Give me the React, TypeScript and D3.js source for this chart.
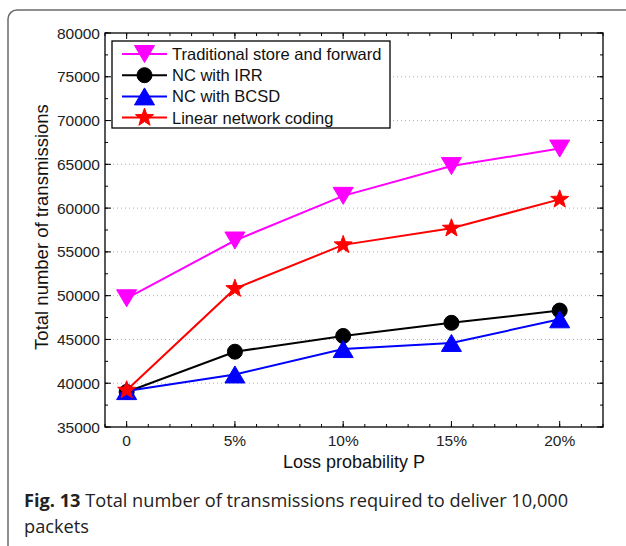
import React from 'react';
import * as d3 from 'd3';

// loss probability (%) and the labels under each tick
const lossValues = [0, 5, 10, 15, 20];
const lossLabels = ['0', '5%', '10%', '15%', '20%'];
const yTickValues = [35000, 40000, 45000, 50000, 55000, 60000, 65000, 70000, 75000, 80000];

// total transmissions
const traditional = [49700, 56300, 61400, 64800, 66800];
const ncIrr = [39000, 43600, 45400, 46900, 48300];
const ncBcsd = [39100, 41000, 43900, 44600, 47300];
const linearNc = [39200, 50800, 55800, 57700, 61000];

const seriesNames = ['Traditional store and forward', 'NC with IRR', 'NC with BCSD', 'Linear network coding'];
const seriesColors = ['#ff00ff', '#000000', '#0000ff', '#ff0000'];
const seriesMarkers = ['triDown', 'circle', 'triUp', 'star'];

const W = 626;
const H = 546;
const plot = { left: 105, right: 603, top: 33, bottom: 427 };

const chartFont = '"Liberation Sans", Arial, Helvetica, sans-serif';

function markerPath(kind: string): string {
  if (kind === 'triDown') return 'M-10,-8.5L10,-8.5L0,8.5Z';
  if (kind === 'triUp') return 'M-10,8.5L10,8.5L0,-8.5Z';
  if (kind === 'star') {
    const pts: string[] = [];
    for (let i = 0; i < 10; i++) {
      const r = i % 2 === 0 ? 9.5 : 3.9;
      const a = -Math.PI / 2 + (i * Math.PI) / 5;
      pts.push(`${(r * Math.cos(a)).toFixed(2)},${(r * Math.sin(a)).toFixed(2)}`);
    }
    return 'M' + pts.join('L') + 'Z';
  }
  return '';
}

const Marker: React.FC<{ kind: string; color: string; x: number; y: number }> = ({ kind, color, x, y }) => {
  if (kind === 'circle') return <circle cx={x} cy={y} r={7.5} fill={color} stroke={color} strokeWidth={1} />;
  return <path d={markerPath(kind)} transform={`translate(${x},${y})`} fill={color} stroke={color} strokeWidth={1} strokeLinejoin="round" />;
};

export default function App() {
  const x = d3.scaleLinear().domain([-1, 22]).range([plot.left, plot.right]);
  const y = d3.scaleLinear().domain([35000, 80000]).range([plot.bottom, plot.top]);

  const allSeries = [traditional, ncIrr, ncBcsd, linearNc];
  const line = d3
    .line<number>()
    .x((_, i) => x(lossValues[i]))
    .y((d) => y(d));

  const xMinor = d3.range(-1, 23, 1);
  const yMinor = d3.range(35000, 80001, 2500);

  return (
    <svg width={W} height={H} style={{ position: 'absolute', left: 0, top: 0, background: '#fff' }}>
      {/* card border */}
      <rect x={8} y={10} width={800} height={800} rx={9} fill="none" stroke="#6a6a6a" strokeWidth={1.5} />

      {/* grid */}
      {yTickValues.slice(1, -1).map((v) => (
        <line key={'g' + v} x1={plot.left} x2={plot.right} y1={y(v)} y2={y(v)} stroke="#b0b0b0" strokeWidth={1} strokeDasharray="1,3" />
      ))}

      {/* minor ticks */}
      {xMinor.map((v) => (
        <g key={'xm' + v} stroke="#000" strokeWidth={1}>
          <line x1={x(v)} x2={x(v)} y1={plot.bottom} y2={plot.bottom - 3} />
          <line x1={x(v)} x2={x(v)} y1={plot.top} y2={plot.top + 3} />
        </g>
      ))}
      {yMinor.map((v) => (
        <g key={'ym' + v} stroke="#000" strokeWidth={1}>
          <line x1={plot.left} x2={plot.left + 3} y1={y(v)} y2={y(v)} />
          <line x1={plot.right} x2={plot.right - 3} y1={y(v)} y2={y(v)} />
        </g>
      ))}
      {/* major ticks */}
      {lossValues.map((v) => (
        <g key={'xM' + v} stroke="#000" strokeWidth={1}>
          <line x1={x(v)} x2={x(v)} y1={plot.bottom} y2={plot.bottom - 6} />
          <line x1={x(v)} x2={x(v)} y1={plot.top} y2={plot.top + 6} />
        </g>
      ))}
      {yTickValues.map((v) => (
        <g key={'yM' + v} stroke="#000" strokeWidth={1}>
          <line x1={plot.left} x2={plot.left + 6} y1={y(v)} y2={y(v)} />
          <line x1={plot.right} x2={plot.right - 6} y1={y(v)} y2={y(v)} />
        </g>
      ))}

      {/* axes box */}
      <rect x={plot.left} y={plot.top} width={plot.right - plot.left} height={plot.bottom - plot.top} fill="none" stroke="#000" strokeWidth={1.3} />

      {/* tick labels */}
      <g fontFamily={chartFont} fontSize={15.5} fill="#222">
        {yTickValues.map((v) => (
          <text key={'yl' + v} x={plot.left - 5} y={y(v)} dy="0.36em" textAnchor="end">
            {v}
          </text>
        ))}
        {lossValues.map((v, i) => (
          <text key={'xl' + v} x={x(v)} y={446} textAnchor="middle">
            {lossLabels[i]}
          </text>
        ))}
      </g>

      {/* axis titles */}
      <text x={(plot.left + plot.right) / 2} y={468} textAnchor="middle" fontFamily={chartFont} fontSize={18} fill="#111">
        Loss probability P
      </text>
      <text
        transform={`translate(48,${(plot.top + plot.bottom) / 2 - 3}) rotate(-90)`}
        textAnchor="middle"
        fontFamily={chartFont}
        fontSize={18.5}
        fill="#111"
      >
        Total number of transmissions
      </text>

      {/* series */}
      {allSeries.map((s, si) => (
        <g key={'s' + si}>
          <path d={line(s) || ''} fill="none" stroke={seriesColors[si]} strokeWidth={2} />
          {s.map((v, i) => (
            <Marker key={i} kind={seriesMarkers[si]} color={seriesColors[si]} x={x(lossValues[i])} y={y(v)} />
          ))}
        </g>
      ))}

      {/* legend */}
      <g>
        <rect x={112} y={41} width={278} height={87} fill="#fff" stroke="#000" strokeWidth={1.3} />
        {seriesNames.map((name, i) => {
          const ry = 54 + i * 21.2;
          return (
            <g key={'lg' + i}>
              <line x1={122} x2={167} y1={ry} y2={ry} stroke={seriesColors[i]} strokeWidth={2} />
              <Marker kind={seriesMarkers[i]} color={seriesColors[i]} x={144.5} y={ry} />
              <text x={172} y={ry} dy="0.36em" fontFamily={chartFont} fontSize={16.5} fill="#111">
                {name}
              </text>
            </g>
          );
        })}
      </g>

      {/* caption */}
      <text x={24} y={507} fontFamily='"Open Sans", sans-serif' fontSize={18.2} fill="#222">
        <tspan fontWeight="bold">Fig. 13</tspan>
        <tspan> Total number of transmissions required to deliver 10,000</tspan>
      </text>
      <text x={24} y={533} fontFamily='"Open Sans", sans-serif' fontSize={18.2} fill="#222">
        packets
      </text>
    </svg>
  );
}
